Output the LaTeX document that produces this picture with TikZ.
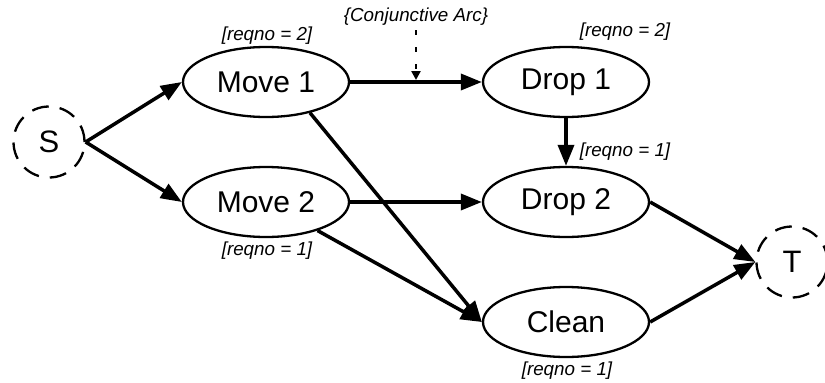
\documentclass[tikz,border=0pt]{standalone}
\usepackage{fontspec}
\setmainfont{Liberation Sans}
\usetikzlibrary{shapes.geometric,arrows.meta}
\begin{document}
\begin{tikzpicture}[x=1pt,y=-1pt,
  task/.style={ellipse,draw,line width=2.3pt,minimum width=166pt,minimum height=70pt,inner sep=0pt,font=\fontsize{30}{34}\selectfont},
  term/.style={circle,draw,line width=2.3pt,dash pattern=on 17pt off 11pt,minimum size=71pt,inner sep=0pt,font=\fontsize{31}{34}\selectfont},
  arc/.style={line width=3.5pt,-{Triangle[length=21pt,width=16pt]}},
  conj/.style={line width=2.6pt,dash pattern=on 5pt off 12pt,-{Triangle[length=9pt,width=9pt]}},
  lbl/.style={inner sep=0pt,font=\fontsize{18.8}{21}\selectfont\itshape}]
\useasboundingbox (0,0) rectangle (825,383);
\node[term] (S) at (49,142) {S};
\node[task] (m1) at (266,82) {Move 1};
\node[task] (m2) at (266,202) {Move 2};
\node[task] (d1) at (566,82) {Drop 1};
\node[task] (d2) at (566,202) {Drop 2};
\node[task] (cl) at (566,322) {Clean};
\node[term] (T) at (792,262) {T};

\node[lbl] (l1) at (267,36) {[reqno = 2]};
\node[lbl] (l2) at (625,32) {[reqno = 2]};
\node[lbl] (l3) at (625,152) {[reqno = 1]};
\node[lbl] (l4) at (267,251) {[reqno = 1]};
\node[lbl] (l5) at (567,371) {[reqno = 1]};
\node[lbl] (ca) at (416,17) {\{Conjunctive Arc\}};

\draw[arc] (S.east) -- (m1.west);
\draw[arc] (S.east) -- (m2.west);
\draw[arc] (m1.east) -- (d1.west);
\draw[arc] (m2.east) -- (d2.west);
\draw[arc] (m1.-35) -- (cl.west);
\draw[arc] (m2.-29) -- (cl.west);
\draw[arc] (d1.south) -- (d2.north);
\draw[arc] (d2.east) -- (T.west);
\draw[arc] (cl.east) -- (T.west);

\coordinate (ct) at (416,30);
\coordinate (cb) at (416,80);
\draw[conj] (ct) -- (cb);
\end{tikzpicture}
\end{document}
